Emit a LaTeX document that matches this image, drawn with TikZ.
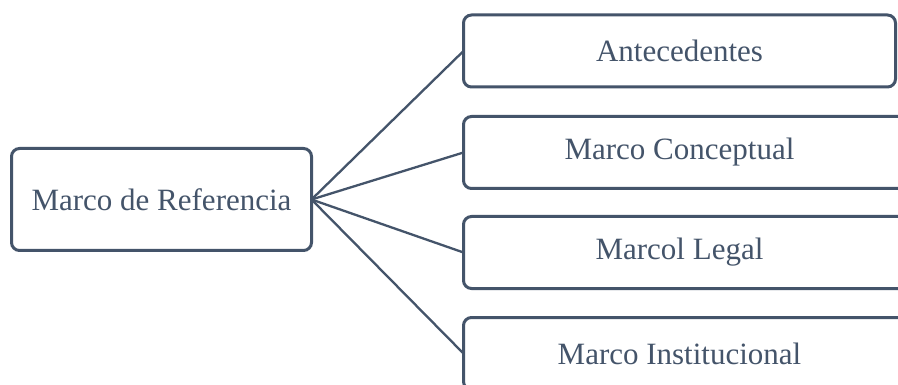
\documentclass[tikz,border=0pt]{standalone}
\usepackage{fontspec}
\setmainfont{Liberation Serif}
\definecolor{slate}{HTML}{44546A}
\begin{document}
\begin{tikzpicture}[x=1pt,y=-1pt,
  boxline/.style={draw=slate,line width=3pt,rounded corners=8pt},
  lbl/.style={text=slate,font=\fontsize{31}{36}\selectfont,inner sep=0pt,outer sep=0pt,anchor=center},
  conn/.style={draw=slate,line width=2.3pt}]
\useasboundingbox[fill=white] (0,0) rectangle (898,385);
% left box
\node[lbl,boxline,minimum width=300pt,minimum height=102pt] (root) at (161.5,199.5) {Marco de Referencia};
% right boxes
\node[lbl,boxline,minimum width=432pt,minimum height=72pt] (b1) at (679.5,51) {Antecedentes};
\node[lbl,minimum width=432pt,minimum height=72pt] (b2) at (679.5,152.5) {Marco Conceptual};
\node[lbl,minimum width=432pt,minimum height=72pt] (b3) at (679.5,252.5) {Marcol Legal};
\node[lbl,minimum width=432pt,minimum height=72pt] (b4) at (679.5,353.5) {Marco Institucional};
\foreach \b in {b2,b3,b4}{
  \draw[boxline] ([xshift=30pt]\b.north east) -- (\b.north west) -- (\b.south west) -- ([xshift=30pt]\b.south east);
}
\foreach \b in {b1,b2,b3,b4}{
  \draw[conn] (root.east) -- (\b.west);
}
\end{tikzpicture}
\end{document}
